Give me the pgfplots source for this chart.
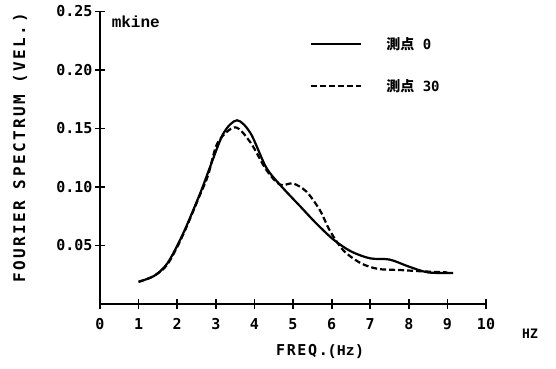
\documentclass[border=0pt]{standalone}
\usepackage{fontspec}
\usepackage{pgfplots}
\pgfplotsset{compat=1.18}
\setmainfont{DejaVu Sans Mono}
\newfontfamily\courier{Liberation Mono}
\newfontfamily\cjk{Noto Sans CJK JP}
\pgfplotstableread{
x y
1.00 0.019
1.40 0.024
1.75 0.035
2.15 0.060
2.60 0.095
2.85 0.117
3.20 0.146
3.55 0.157
3.90 0.146
4.30 0.117
4.66 0.102
5.20 0.083
5.60 0.069
6.05 0.055
6.50 0.045
7.00 0.039
7.50 0.038
8.00 0.032
8.50 0.027
9.15 0.0265
}\pointzero
\pgfplotstableread{
x y
1.00 0.019
1.40 0.024
1.75 0.034
2.15 0.059
2.60 0.094
2.80 0.110
3.05 0.138
3.50 0.151
3.90 0.138
4.30 0.115
4.66 0.102
5.00 0.103
5.35 0.096
5.70 0.080
5.95 0.063
6.30 0.046
6.75 0.035
7.20 0.030
7.80 0.029
8.30 0.028
9.00 0.027
}\pointthirty
\begin{document}
\begin{tikzpicture}
\useasboundingbox (-100bp,-65bp) rectangle (456bp,304bp);
\begin{axis}[
  at={(0,0)}, anchor=south west,
  scale only axis, width=386bp, height=292.5bp,
  xmin=0, xmax=10, ymin=0, ymax=0.25,
  axis lines*=left,
  axis line style={line width=2.5bp},
  clip=false,
  xtick={0,1,...,10},
  ytick={0.05,0.10,0.15,0.20,0.25},
  tick align=center,
  major tick length=10bp,
  every tick/.style={line width=1.8bp, black},
  /pgf/number format/assume math mode=true,
  tick label style={font=\fontsize{15bp}{17bp}\selectfont\bfseries},
  yticklabel style={/pgf/number format/fixed, /pgf/number format/fixed zerofill, /pgf/number format/precision=2, xshift=1bp},
  xticklabel style={yshift=-6bp},
  scaled y ticks=false,
  xlabel={FREQ.{\courier\bfseries(Hz)}},
  xlabel style={at={(0.57,-0.164)}, anchor=center, font=\fontsize{15bp}{17bp}\selectfont\bfseries\addfontfeatures{LetterSpace=11}},
  ylabel={FOURIER SPECTRUM (VEL.)},
  ylabel style={at={(-0.207,0.533)}, anchor=center, font=\fontsize{16bp}{18bp}\selectfont\bfseries\addfontfeatures{LetterSpace=15}},
  legend style={at={(0.544,0.913)}, anchor=north west, draw=none, fill=none, inner sep=0pt,
    row sep=29bp, nodes={inner sep=0pt, font=\fontsize{14bp}{16bp}\selectfont\bfseries}},
  legend cell align=left,
  legend image code/.code={\draw[#1] (0bp,0bp) -- (50bp,0bp); \path (74bp,0bp);},
]
\addplot[black, line width=2.2bp, smooth, tension=0.5] table[x=x,y=y] {\pointzero};
\addlegendentry{{\cjk\bfseries 測点} 0}
\addplot[black, line width=2.2bp, smooth, tension=0.5, dash pattern=on 6bp off 3bp] table[x=x,y=y] {\pointthirty};
\addlegendentry{{\cjk\bfseries 測点} 30}
\node[anchor=north west, inner sep=0pt, font=\fontsize{16bp}{18bp}\selectfont\courier\bfseries] at (axis cs:0.3,0.246) {mkine};
\node[anchor=center, inner sep=0pt, font=\fontsize{13bp}{15bp}\selectfont\bfseries] at (axis cs:11.14,0) [yshift=-30bp] {HZ};
\end{axis}
\end{tikzpicture}
\end{document}
